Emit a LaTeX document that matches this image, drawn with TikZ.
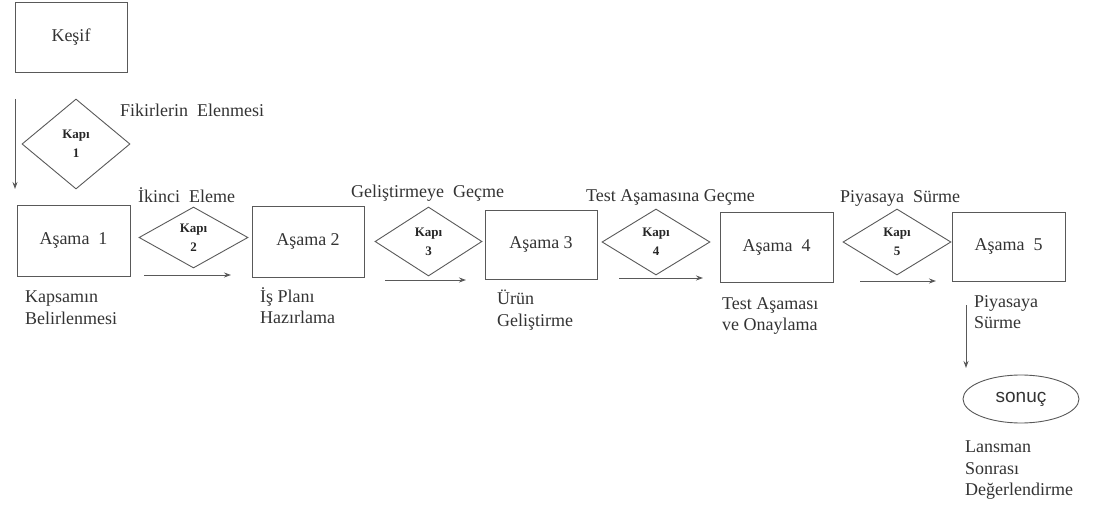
\documentclass[tikz,border=0pt]{standalone}
\usepackage{fontspec}
\setmainfont{Liberation Serif}
\newfontfamily\arialfont{Liberation Sans}
\usetikzlibrary{shapes.geometric,arrows.meta}
\tikzset{
  ln/.style={draw=black!65, line width=0.9pt},
  stagebox/.style={ln, rectangle, inner sep=0pt, text=black!80, font=\fontsize{18}{21}\selectfont},
  gate/.style={ln, diamond, inner sep=0pt, text=black!85, align=center, font=\bfseries\fontsize{13}{19}\selectfont},
  lbl/.style={anchor=west, inner sep=0pt, text=black!80, align=left, font=\fontsize{18}{21.5}\selectfont},
  arr/.style={ln, -{Stealth[length=7pt,width=5pt]}},
}
\begin{document}
\begin{tikzpicture}[x=1pt,y=-1pt]
\useasboundingbox (0,0) rectangle (1093,508);
% stage boxes
\node[stagebox, minimum width=112pt, minimum height=70pt] (kesif) at (71,37.5) {Keşif};
\node[stagebox, minimum width=113pt, minimum height=71pt] (a1) at (73.5,240.5) {Aşama\ \ 1};
\node[stagebox, minimum width=112pt, minimum height=71pt] (a2) at (308,241.5) {Aşama 2};
\node[stagebox, minimum width=112pt, minimum height=69pt] (a3) at (541,244.5) {Aşama 3};
\node[stagebox, minimum width=113pt, minimum height=70pt] (a4) at (776.5,247) {Aşama\ \ 4};
\node[stagebox, minimum width=113pt, minimum height=69pt] (a5) at (1008.5,246.5) {Aşama\ \ 5};
% gates
\node[gate, minimum width=108pt, minimum height=90pt] (k1) at (76,144) {Kapı\\1};
\node[gate, minimum width=109pt, minimum height=61pt] (k2) at (193.5,237.5) {Kapı\\2};
\node[gate, minimum width=107pt, minimum height=69pt] (k3) at (428.5,241.5) {Kapı\\3};
\node[gate, minimum width=108pt, minimum height=66pt] (k4) at (656,242) {Kapı\\4};
\node[gate, minimum width=108pt, minimum height=66pt] (k5) at (897,242) {Kapı\\5};
% result
\node[ln, ellipse, minimum width=116pt, minimum height=48pt, inner sep=0pt, text=black!80, font=\arialfont\fontsize{19}{21}\selectfont] (son) at (1021,399) {sonuç};
% gate labels
\node[lbl] (l1) at (120,110) {Fikirlerin\ \ Elenmesi};
\node[lbl] (l2) at (138,195) {İkinci\ \ Eleme};
\node[lbl] (l3) at (351,193) {Geliştirmeye\ \ Geçme};
\node[lbl] (l4) at (586,197) {Test Aşamasına Geçme};
\node[lbl] (l5) at (840,198) {Piyasaya\ \ Sürme};
% stage descriptions
\node[lbl, anchor=north west] (d1) at (25,291) {Kapsamın\\Belirlenmesi};
\node[lbl, anchor=north west] (d2) at (260,287) {İş Planı\\Hazırlama};
\node[lbl, anchor=north west] (d3) at (497,290) {Ürün\\Geliştirme};
\node[lbl, anchor=north west] (d4) at (722,297) {Test Aşaması\\ve Onaylama};
\node[lbl, anchor=north west] (d5) at (974,295) {Piyasaya\\Sürme};
\node[lbl, anchor=north west] (d6) at (965,441) {Lansman\\Sonrası\\Değerlendirme};
% free arrows
\coordinate (v1s) at (15,99);   \coordinate (v1e) at (15,189);
\coordinate (h1s) at (144,275); \coordinate (h1e) at (231,275);
\coordinate (h2s) at (385,280); \coordinate (h2e) at (466,280);
\coordinate (h3s) at (619,278); \coordinate (h3e) at (703,278);
\coordinate (h4s) at (860,281); \coordinate (h4e) at (936,281);
\coordinate (v2s) at (966,305); \coordinate (v2e) at (966,368);
\draw[arr] (v1s) -- (v1e);
\draw[arr] (h1s) -- (h1e);
\draw[arr] (h2s) -- (h2e);
\draw[arr] (h3s) -- (h3e);
\draw[arr] (h4s) -- (h4e);
\draw[arr] (v2s) -- (v2e);
\end{tikzpicture}
\end{document}
